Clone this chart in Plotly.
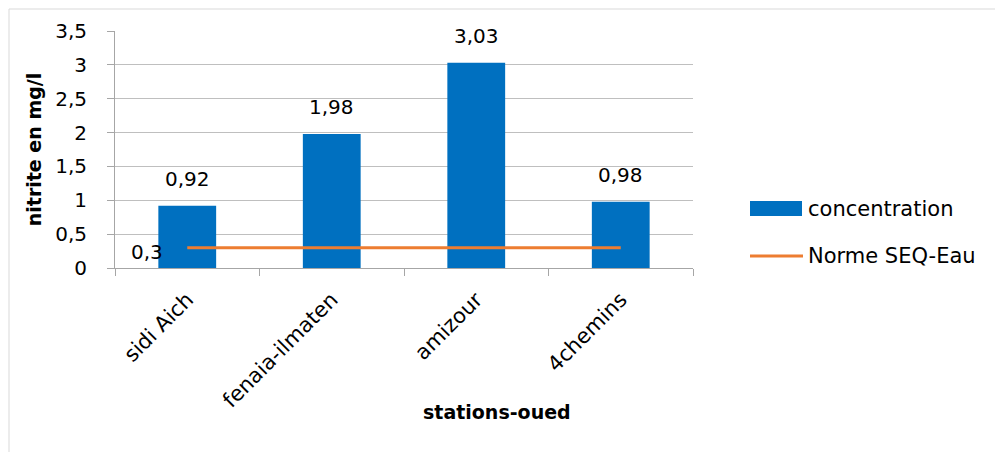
import plotly.graph_objects as go

# Nitrite concentration per river station, with the SEQ-Eau reference norm
stations = ["sidi Aich", "fenaia-ilmaten", "amizour", "4chemins"]
concentration = [0.92, 1.98, 3.03, 0.98]
norme_seq_eau = [0.3, 0.3, 0.3, 0.3]
y_ticks = [0, 0.5, 1, 1.5, 2, 2.5, 3, 3.5]

BLUE = "#0070C0"
ORANGE = "#ED7D31"
GRID = "#BFBFBF"
AXIS = "#A6A6A6"
FONT = "DejaVu Sans, sans-serif"
FS = 20


def fr(v):
    """Format a number with a decimal comma."""
    s = f"{v:.2f}".rstrip("0").rstrip(".")
    return s.replace(".", ",")


fig = go.Figure()
fig.add_trace(go.Bar(
    x=stations, y=concentration, name="concentration",
    marker=dict(color=BLUE, line=dict(width=0)), width=0.4,
    showlegend=False,
))
fig.add_trace(go.Scatter(
    x=stations, y=norme_seq_eau, name="Norme SEQ-Eau", mode="lines",
    line=dict(color=ORANGE, width=3), showlegend=False,
))

# value labels above the bars
for s, v in zip(stations, concentration):
    fig.add_annotation(x=s, y=v, text=fr(v), showarrow=False,
                       yshift=27, font=dict(size=FS, color="#000000"))
# norm label at the first point of the line
fig.add_annotation(x=stations[0], y=norme_seq_eau[0], text=fr(norme_seq_eau[0]),
                   showarrow=False, xanchor="right", xshift=-22, yshift=-4,
                   font=dict(size=FS, color="#000000"))

# plot-area geometry in pixels (for the frame, titles and legend)
W, H = 995, 452
L, R, T, B = 115, 302, 31, 184
pw, ph = W - L - R, H - T - B


def px(x):
    return (x - L) / pw


def py(y):
    return (H - B - y) / ph


# chart frame (left and top edges)
fig.add_shape(type="line", xref="paper", yref="paper",
              x0=px(9), y0=py(H + 5), x1=px(9), y1=py(9),
              line=dict(color="#D9D9D9", width=1))
fig.add_shape(type="line", xref="paper", yref="paper",
              x0=px(9), y0=py(9), x1=px(W + 5), y1=py(9),
              line=dict(color="#D9D9D9", width=1))

# x-axis title
fig.add_annotation(xref="paper", yref="paper", x=px(497), y=py(412),
                   text="<b>stations-oued</b>", showarrow=False,
                   xanchor="center", yanchor="middle",
                   font=dict(size=19, color="#000000"))

# legend
fig.add_shape(type="rect", xref="paper", yref="paper",
              x0=px(750), x1=px(802), y0=py(216), y1=py(201),
              fillcolor=BLUE, line=dict(width=0))
fig.add_shape(type="line", xref="paper", yref="paper",
              x0=px(750), x1=px(803), y0=py(256), y1=py(256),
              line=dict(color=ORANGE, width=3))
fig.add_annotation(xref="paper", yref="paper", x=px(806), y=py(209),
                   text="concentration", showarrow=False, xanchor="left",
                   yanchor="middle", font=dict(size=21, color="#000000"))
fig.add_annotation(xref="paper", yref="paper", x=px(806), y=py(256),
                   text="Norme SEQ-Eau", showarrow=False, xanchor="left",
                   yanchor="middle", font=dict(size=21, color="#000000"))

fig.update_layout(
    width=W, height=H,
    margin=dict(l=L, r=R, t=T, b=B),
    plot_bgcolor="white", paper_bgcolor="white",
    separators=", ",
    font=dict(family=FONT, size=FS, color="#000000"),
    bargap=0.6,
)
fig.update_xaxes(
    range=[-0.5, 3.5], tickangle=-45, tickson="boundaries",
    ticks="outside", ticklen=7, tickcolor=AXIS, ticklabelstandoff=10,
    showline=True, linecolor=AXIS, linewidth=1, showgrid=False,
    tickfont=dict(size=21),
)
fig.update_yaxes(
    range=[0, 3.5], tickvals=y_ticks, ticks="outside", ticklen=7,
    tickcolor=AXIS, ticklabelstandoff=16,
    showline=True, linecolor=AXIS, linewidth=1,
    showgrid=True, gridcolor=GRID, gridwidth=1, zeroline=False,
    tickfont=dict(size=FS),
    title=dict(text="<b>nitrite en mg/l</b>", font=dict(size=19), standoff=8),
)

fig.write_html("out.html")
